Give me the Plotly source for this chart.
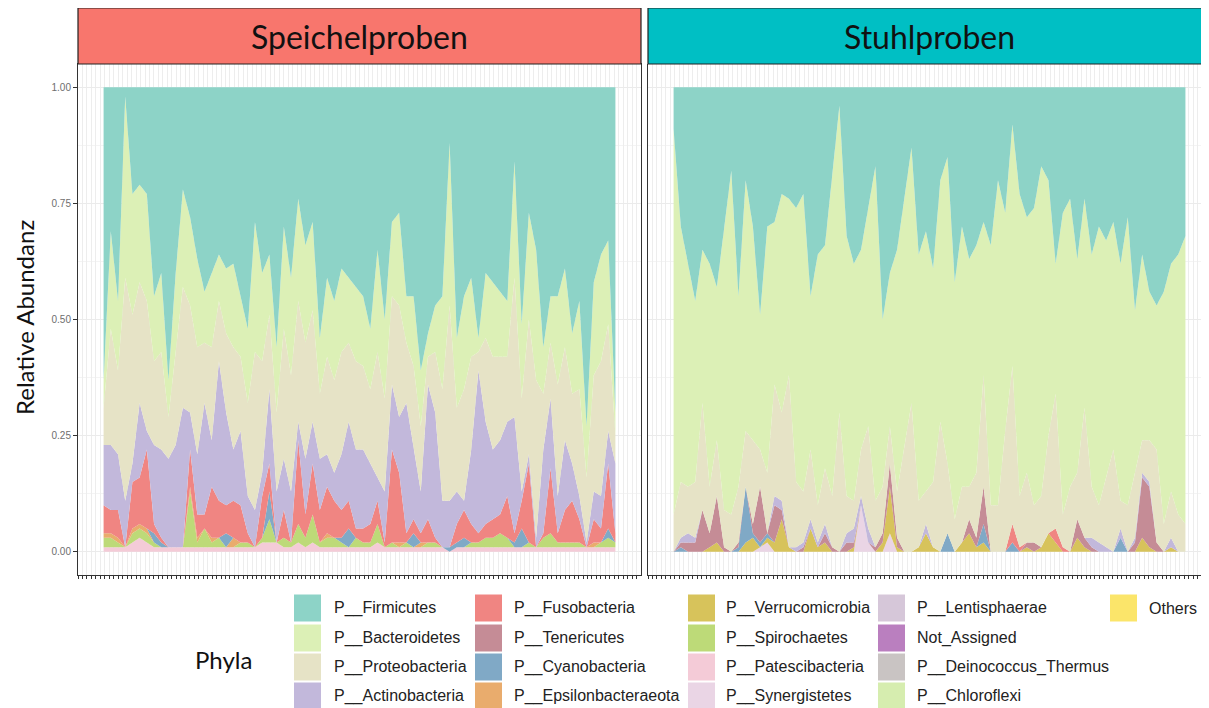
import plotly.graph_objects as go

# page is 1209x708; the browser body adds an 8px margin, so the figure is 8px smaller
PAGE_W, PAGE_H = 1209, 708
OFF = 8
W, H = PAGE_W - OFF, PAGE_H - OFF

# ---------------- legend / phyla ----------------
phyla = ["P__Firmicutes", "P__Bacteroidetes", "P__Proteobacteria", "P__Actinobacteria",
         "P__Fusobacteria", "P__Tenericutes", "P__Cyanobacteria", "P__Epsilonbacteraeota",
         "P__Verrucomicrobia", "P__Spirochaetes", "P__Patescibacteria", "P__Synergistetes",
         "P__Lentisphaerae", "Not_Assigned", "P__Deinococcus_Thermus", "P__Chloroflexi", "Others"]
phyla_colors = ["#8DD3C7", "#DCF0B6", "#E6E3C6", "#C2B8DB",
                "#F08582", "#C58C96", "#80A9C6", "#E9AC6D",
                "#D7C35B", "#BDDA78", "#F4CBD7", "#EAD5E5",
                "#D6C7D9", "#BA7FBF", "#C9C4C3", "#D6EDAF", "#FBE56A"]

panels = ["Speichelproben", "Stuhlproben"]
panel_colors = ["#F8766D", "#00BFC4"]
y_ticks = [0.0, 0.25, 0.5, 0.75, 1.0]
y_ticklabels = ["0.00", "0.25", "0.50", "0.75", "1.00"]

# ---------------- Speichelproben (saliva) ----------------
sal_firmicutes = [.63,.31,.46,.02,.23,.21,.23,.45,.40,.63, .40,.22,.28,.37,.44,.40,.36,.39,.38,.45,
                  .52,.29,.40,.36,.56,.30,.41,.24,.34,.29, .54,.41,.46,.39,.41,.43,.45,.52,.35,.50,
                  .29,.27,.45,.45,.61,.53,.47,.45,.12,.54, .45,.41,.54,.40,.42,.44,.46,.16,.51,.27,
                  .35,.56,.45,.45,.39,.53,.46,.73,.42,.36, .33,.70]
sal_bacteroidetes = [.06,.21,.15,.39,.26,.21,.23,.14,.17,.08, .17,.21,.19,.19,.11,.16,.10,.14,.18,.13,
                     .16,.28,.19,.13,.14,.22,.21,.22,.21,.19, .12,.17,.17,.18,.14,.16,.15,.13,.22,.17,
                     .16,.20,.10,.15,.12,.05,.10,.20,.35,.15, .20,.17,.03,.14,.16,.14,.12,.25,.16,.23,
                     .28,.10,.10,.19,.17,.13,.19,.11,.20,.23, .18,.05]
sal_proteobacteria = [.08,.25,.18,.48,.32,.26,.28,.18,.21,.09, .20,.26,.23,.23,.13,.20,.13,.17,.22,.16,
                      .20,.34,.24,.16,.17,.28,.25,.26,.25,.24, .14,.21,.20,.22,.17,.19,.18,.16,.27,.20,
                      .19,.24,.13,.18,.14,.06,.13,.24,.42,.18, .24,.20,.04,.18,.20,.18,.14,.30,.20,.29,
                      .34,.12,.12,.24,.20,.15,.23,.14,.25,.29, .23,.06]
sal_actinobacteria = [.13,.14,.12,.10,.04,.16,.04,.17,.19,.19, .22,.30,.08,.13,.24,.10,.30,.20,.11,.16,
                      .08,.08,.05,.16,.11,.11,.11,.04,.12,.09, .11,.07,.06,.12,.17,.17,.17,.13,.05,.11,
                      .14,.12,.28,.15,.09,.29,.27,.10,.10,.07, .02,.16,.35,.22,.15,.16,.16,.25,.02,.02,
                      .02,.18,.15,.08,.15,.08,.05,.01,.06,.07, .07,.15]
sal_fusobacteria = [.06,.05,.06,0,.10,.10,.17,.02,.01,0, 0,0,.08,.05,.03,.11,.08,.06,.08,.08,
                    .02,0,.09,.06,0,.06,0,.18,.05,.11, .07,.10,.08,.06,.06,.02,.03,.04,.05,.01,
                    .20,.15,.02,.03,.02,.05,.01,0,0,.04, .06,.04,.02,.03,.04,.04,.09,.02,.06,.17,
                    0,.01,.14,.02,.07,.09,.05,0,.05,.03, .14,.02]
sal_cyanobacteria = [0,0,0,0,0,0,0,.02,.01,0, 0,0,0,0,0,0,0,.03,0,0,
                     0,0,0,.06,0,0,0,0,0,0, 0,0,0,.01,.04,0,0,0,0,0,
                     0,0,0,.03,0,0,0,0,.01,.01, .02,0,0,0,0,0,0,.01,.04,0,
                     0,0,0,0,0,0,0,0,0,0, .02,0]
sal_epsilonbacteraeota = [.01,.01,.01,0,.01,.01,.01,0,0,0, 0,0,.01,.01,0,.01,0,0,.02,0,
                          0,0,0,0,0,0,0,0,0,0, 0,.01,0,0,0,0,0,0,0,0,
                          0,.01,0,0,.01,0,0,0,0,0, 0,0,0,0,0,0,0,0,0,0,
                          0,0,0,0,0,0,0,0,.01,0, 0,0]
sal_spirochaetes = [.02,.02,.01,0,.02,.02,.02,.01,0,0, 0,0,.12,.01,.04,.01,.02,0,0,.01,
                    .01,0,.01,.05,0,.02,.01,.04,.02,.06, .01,.02,.02,.01,0,.02,.01,.01,.04,0,
                    .01,0,.01,0,0,.01,.01,0,0,0, 0,.01,.01,.02,.02,.03,.02,0,0,.01,
                    0,.02,.03,.01,.01,.01,.01,0,0,.01, .02,.01]
sal_patescibacteria = [.01,.01,.01,.01,.02,.03,.02,.01,.01,.01, .01,.01,.01,.01,.01,.01,.01,.01,.01,.01,
                       .01,.01,.02,.02,.02,.01,.01,.02,.01,.02, .01,.01,.01,.01,.01,.01,.01,.01,.02,.01,
                       .01,.01,.01,.01,.01,.01,.01,.01,0,.01, .01,.01,.01,.01,.01,.01,.01,.01,.01,.01,
                       .01,.01,.01,.01,.01,.01,.01,.01,.01,.01, .01,.01]

# ---------------- Stuhlproben (stool) ----------------
st_firmicutes = [.09,.30,.38,.46,.35,.38,.43,.30,.18,.45, .20,.30,.49,.30,.29,.23,.24,.26,.23,.45,
                 .36,.34,.19,.04,.32,.38,.35,.26,.17,.50, .40,.35,.24,.13,.36,.31,.39,.20,.15,.42,
                 .30,.37,.34,.29,.34,.20,.27,.08,.23,.28, .26,.17,.20,.38,.27,.24,.37,.24,.36,.30,
                 .33,.29,.38,.28,.48,.36,.44,.47,.44,.38, .36,.32]
st_bacteroidetes = [.83,.55,.48,.39,.33,.48,.33,.61,.74,.41, .54,.46,.29,.53,.35,.47,.38,.59,.64,.33,
                    .54,.48,.69,.66,.56,.51,.43,.47,.72,.36, .33,.52,.53,.55,.53,.56,.46,.52,.66,.51,
                    .56,.49,.49,.33,.56,.70,.47,.52,.65,.55, .64,.71,.55,.28,.65,.62,.46,.45,.50,.60,
                    .51,.49,.51,.62,.35,.40,.32,.31,.50,.49, .56,.62]
st_proteobacteria = [.08,.12,.10,.12,.23,.10,.12,.08,.08,.12, .12,.18,.08,.13,.24,.19,.37,.14,.11,.15,
                     .08,.12,.11,.30,.08,.06,.10,.22,.10,.10, .08,.10,.23,.32,.10,.07,.14,.28,.15,.07,
                     .12,.07,.14,.24,.10,.10,.26,.34,.11,.15, .08,.11,.21,.29,.07,.14,.10,.28,.11,.08,
                     .15,.22,.06,.10,.14,.07,.09,.20,.06,.10, .08,.06]
st_actinobacteria = [0,.01,.02,.01,0,0,0,0,0,0, 0,0,0,0,.02,.02,0,.01,.01,.02,
                     .01,.02,0,0,.02,.03,.02,.03,0,0, 0,0,0,0,0,.02,0,0,0,0,
                     0,0,0,0,0,0,0,0,0,0, 0,0,0,0,0,0,0,0,.02,.02,
                     .01,0,.02,0,.01,.01,.01,0,0,.02, 0,0]
st_fusobacteria = [0,0,0,0,0,0,0,0,0,0, 0,0,0,0,0,0,0,0,0,0,
                   0,0,0,0,0,0,0,0,0,0, 0,0,0,0,0,0,0,0,0,0,
                   0,0,0,0,0,0,0,.04,.01,0, 0,0,0,.03,.01,0,0,0,0,0,
                   0,0,0,0,0,0,0,0,0,0, 0,0]
st_tenericutes = [0,.01,.02,.02,.09,.03,.10,.01,0,.01, 0,.02,.12,0,.08,.02,0,0,.01,0,
                  0,.02,.01,0,.02,.01,0,0,.01,.02, .05,.02,0,0,0,0,0,0,0,0,
                  0,.03,.02,.08,0,0,0,0,0,.01, .02,0,0,0,0,0,.04,.02,.01,0,
                  0,0,0,0,.02,.13,.13,.02,0,0, 0,0]
st_cyanobacteria = [0,.01,0,0,0,0,0,0,0,.01, .12,.01,.01,.01,0,0,0,0,0,0,
                    0,0,0,0,0,0,0,0,0,0, 0,0,0,0,0,0,0,0,.04,0,
                    0,0,0,.04,0,0,0,.02,0,0, 0,0,0,0,0,0,0,0,0,0,
                    0,0,.03,0,0,0,0,0,0,0, 0,0]
st_verrucomicrobia = [0,0,0,0,0,.01,.02,0,0,0, .02,.03,0,.01,.02,.07,.01,0,0,.05,
                      .01,.02,0,0,0,.01,0,0,0,.02, .10,.01,0,0,.01,.04,.01,0,0,0,
                      .02,.04,.01,.02,0,0,0,0,0,.01, 0,.01,.04,.02,0,0,.03,.01,0,0,
                      0,0,0,0,0,.03,.01,0,0,.01, 0,0]
st_synergistetes = [0,0,0,0,0,0,0,0,0,0, 0,0,.01,.02,0,0,0,0,0,0,
                    0,0,0,0,0,0,.10,.02,0,0, .04,0,0,0,0,0,0,0,0,0,
                    0,0,0,0,0,0,0,0,0,0, 0,0,0,0,0,0,0,0,0,0,
                    0,0,0,0,0,0,0,0,0,0, 0,0]

saliva = {
    "P__Firmicutes": sal_firmicutes, "P__Bacteroidetes": sal_bacteroidetes,
    "P__Proteobacteria": sal_proteobacteria, "P__Actinobacteria": sal_actinobacteria,
    "P__Fusobacteria": sal_fusobacteria, "P__Cyanobacteria": sal_cyanobacteria,
    "P__Epsilonbacteraeota": sal_epsilonbacteraeota, "P__Spirochaetes": sal_spirochaetes,
    "P__Patescibacteria": sal_patescibacteria,
}
stool = {
    "P__Firmicutes": st_firmicutes, "P__Bacteroidetes": st_bacteroidetes,
    "P__Proteobacteria": st_proteobacteria, "P__Actinobacteria": st_actinobacteria,
    "P__Fusobacteria": st_fusobacteria, "P__Tenericutes": st_tenericutes,
    "P__Cyanobacteria": st_cyanobacteria, "P__Verrucomicrobia": st_verrucomicrobia,
    "P__Synergistetes": st_synergistetes,
}

fig = go.Figure()
color_of = dict(zip(phyla, phyla_colors))

for data, xa, ya, grp in [(saliva, "x", "y", "sal"), (stool, "x2", "y2", "st")]:
    n = len(data["P__Firmicutes"])
    xs = list(range(1, n + 1))
    # ggplot stacks the first factor level on top -> add in reverse order
    for name in reversed(phyla):
        if name not in data:
            continue
        fig.add_trace(go.Scatter(
            x=xs, y=data[name], xaxis=xa, yaxis=ya, mode="lines",
            stackgroup=grp, groupnorm="fraction", line=dict(width=0),
            fillcolor=color_of[name], name=name, showlegend=False,
            hoverinfo="x+y+name"))

# ---------------- layout ----------------
def px_x(p):  # page pixel -> paper fraction
    return (p - OFF) / W

def px_y(p):
    return 1 - (p - OFF) / H

n_s = len(sal_firmicutes)
pad = 0.05 * (n_s - 1)
x_common = dict(showticklabels=False, ticks="outside", ticklen=3, tickcolor="#333333",
                tickmode="linear", dtick=0.62, showgrid=True, gridcolor="#EDEDED", gridwidth=0.6,
                showline=True, linecolor="#333333", linewidth=1, zeroline=False)
y_common = dict(range=[-0.05, 1.05], tickmode="array", tickvals=y_ticks, zeroline=False,
                showgrid=True, gridcolor="#EBEBEB", gridwidth=1,
                minor=dict(tickmode="array", tickvals=[0.125, 0.375, 0.625, 0.875],
                           showgrid=True, gridcolor="#F4F4F4", gridwidth=0.8),
                showline=True, linecolor="#333333", linewidth=1)

fig.update_layout(
    width=W, height=H, margin=dict(l=0, r=0, t=0, b=0),
    paper_bgcolor="white", plot_bgcolor="white",
    xaxis=dict(domain=[px_x(78), px_x(641)], range=[1 - pad, n_s + pad], mirror=True,
               anchor="y", tick0=1 - pad, **x_common),
    xaxis2=dict(domain=[px_x(648), 1.0], range=[1 - pad, n_s + pad - 0.28], mirror=False,
                anchor="y2", tick0=1 - pad, **x_common),
    yaxis=dict(domain=[px_y(575), px_y(64)], anchor="x", ticktext=y_ticklabels,
               ticks="outside", ticklen=4, tickcolor="#333333",
               tickfont=dict(family="Liberation Sans", size=10, color="#6E6E6E"),
               mirror=True, **y_common),
    yaxis2=dict(domain=[px_y(575), px_y(64)], anchor="x2", showticklabels=False,
                ticks="", mirror=False, **y_common),
)

shapes = []
annotations = []
# facet strips
strip_bounds = [(78, 641), (648, 1215)]
strip_text_x = [359, 929]
for (x0, x1), tx, label, col in zip(strip_bounds, strip_text_x, panels, panel_colors):
    shapes.append(dict(type="rect", xref="paper", yref="paper",
                       x0=px_x(x0), x1=px_x(x1), y0=px_y(64), y1=px_y(8),
                       fillcolor=col, line=dict(color="#222222", width=1.2), layer="above"))
    annotations.append(dict(xref="paper", yref="paper", x=px_x(tx), y=px_y(37),
                            text=label, showarrow=False,
                            font=dict(family="Lato", size=32, color="#111111"),
                            xanchor="center", yanchor="middle"))

# axis title
annotations.append(dict(xref="paper", yref="paper", x=px_x(24), y=px_y(318),
                        text="Relative Abundanz", textangle=-90, showarrow=False,
                        font=dict(family="Lato", size=24, color="#111111"),
                        xanchor="center", yanchor="middle", borderpad=0))

# legend (drawn manually, column-major like ggplot)
annotations.append(dict(xref="paper", yref="paper", x=px_x(193), y=px_y(659),
                        text="Phyla", showarrow=False, xanchor="left", yanchor="middle",
                        font=dict(family="Lato", size=24, color="#111111")))
col_swatch_x = [294, 475, 688, 878, 1110]
col_text_x = [332, 512, 724, 915, 1147]
row_y = [608, 638, 667, 696]
for i, (name, col) in enumerate(zip(phyla, phyla_colors)):
    c, r = divmod(i, 4)
    sx, ty = col_swatch_x[c], row_y[r]
    shapes.append(dict(type="rect", xref="paper", yref="paper",
                       x0=px_x(sx), x1=px_x(sx + 27), y0=px_y(ty + 13.5), y1=px_y(ty - 13.5),
                       fillcolor=col, line=dict(width=0)))
    annotations.append(dict(xref="paper", yref="paper", x=px_x(col_text_x[c]), y=px_y(ty),
                            text=name, showarrow=False, xanchor="left", yanchor="middle",
                            font=dict(family="Liberation Sans", size=16, color="#222222")))

fig.update_layout(shapes=shapes, annotations=annotations)
fig.write_html("out.html")
